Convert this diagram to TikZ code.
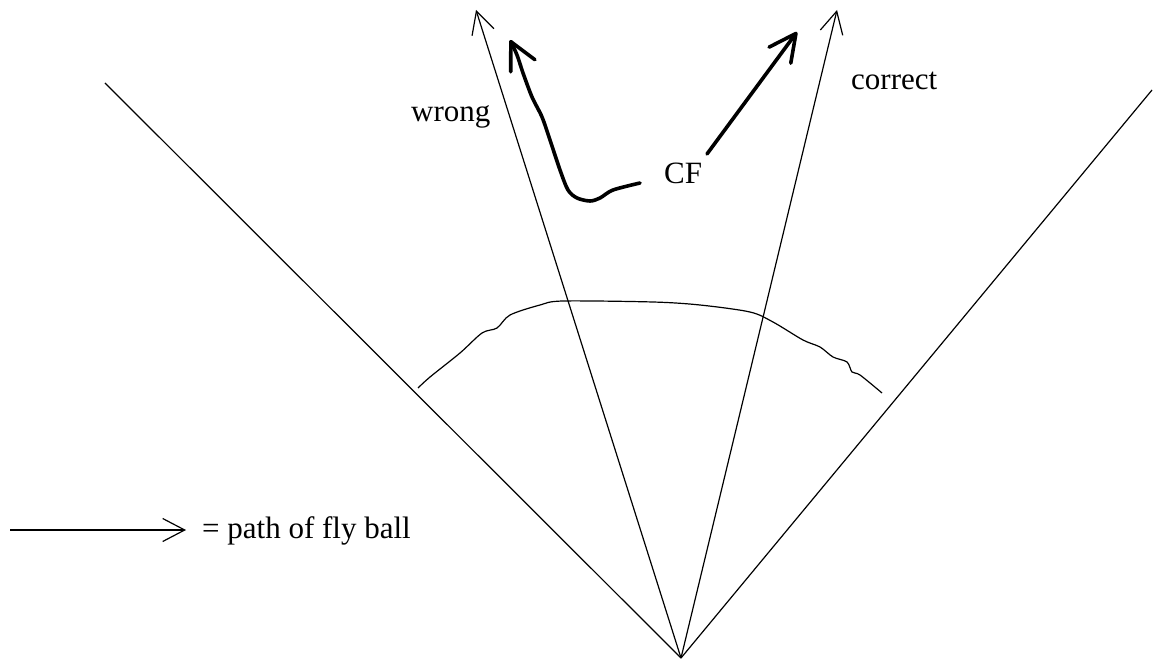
\documentclass[tikz,border=0pt]{standalone}
\usepackage{fontspec}
\setmainfont{Liberation Serif}
\usetikzlibrary{arrows.meta}
\begin{document}
\begin{tikzpicture}[x=1pt,y=-1pt,
  thin line/.style={line width=1.2pt},
  thick path/.style={line width=3.6pt, line cap=round, line join=round},
  open tip/.style={-{Straight Barb[length=22pt,width=23pt,line width=1.2pt]}},
  big tip/.style={-{Straight Barb[length=27pt,width=27pt,line width=3.6pt,round]}},
  lbl/.style={font=\fontsize{31}{36}\selectfont, inner sep=0pt, anchor=base west}]
\useasboundingbox (0,0) rectangle (1153,660);
% key points
\coordinate (apex) at (681,658);
\coordinate (lf) at (105,83);
\coordinate (rf) at (1152,90);
\coordinate (ltip) at (476,10);
\coordinate (rtip) at (837,10);
% foul lines
\draw[thin line] (apex) -- (lf);
\draw[thin line] (apex) -- (rf);
% fly ball paths
\draw[thin line, open tip] (apex) -- (ltip);
\draw[thin line, open tip] (apex) -- (rtip);
% outfield fence
\draw[thin line] plot[smooth, tension=0.5] coordinates {(418,388) (430,377) (460,353) (482,333) (497,328) (510,315) (540,305) (563,301) (653,302) (700,305) (750,312) (773,322) (803,340) (820,347) (833,357) (847,362) (852,372) (860,375) (882,393)};
% labels
\node[lbl] (wrong) at (411,122) {wrong};
\node[lbl] (correct) at (851,90) {correct};
\node[lbl] (cf) at (664,184) {CF};
% CF routes
\coordinate (wstart) at (640,183);
\coordinate (wtip) at (510,40);
\draw[thick path, big tip] plot[smooth, tension=0.5] coordinates {(wstart) (613,190) (600,198) (590,201) (577,198) (568,190) (560,170) (550,140) (542,117) (532,97) (523,73) (517,55) (wtip)};
\coordinate (cstart) at (707,154);
\coordinate (ctip) at (797,32);
\draw[thick path, big tip] (cstart) -- (ctip);
% legend
\coordinate (legs) at (10,530);
\coordinate (lege) at (186,530);
\draw[thin line, open tip] (legs) -- (lege);
\node[lbl] (legtext) at (202,538) {= path of fly ball};
\end{tikzpicture}
\end{document}
